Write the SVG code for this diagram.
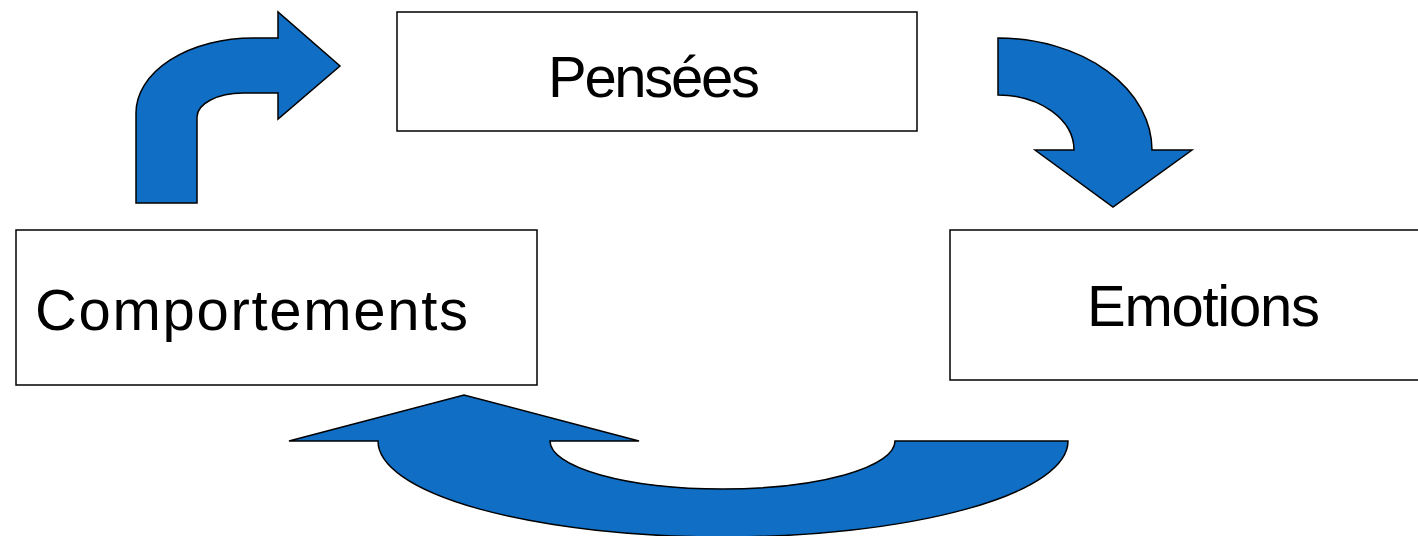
<svg xmlns="http://www.w3.org/2000/svg" width="1418" height="536" viewBox="0 0 1418 536">
  <style>
    .box { fill: #ffffff; stroke: #000000; stroke-width: 1.5; }
    .label { font-family: "Liberation Sans", Arial, sans-serif; font-size: 58px; fill: #000000; text-anchor: middle; }
    .arrow { fill: #106EC4; stroke: #000000; stroke-width: 1.5; stroke-linejoin: miter; }
  </style>
  <rect width="1418" height="536" fill="#ffffff"/>

  <g id="connectors">
    <!-- bent arrow: Comportements up to Pensées -->
    <path class="arrow" d="M136,203 L136,113 A117,75 0 0 1 253,38 L278,38 L278,12 L340,66 L278,119 L278,93 L243,93 A46,24 0 0 0 197,117 L197,203 Z"/>
    <!-- curved arrow: Pensées down to Emotions -->
    <path class="arrow" d="M998,38 A154,112 0 0 1 1152,150 L1192,150 L1113,207 L1035,150 L1074,150 A76,55 0 0 0 998,95 Z"/>
    <!-- U-turn arrow: Emotions back to Comportements -->
    <path class="arrow" d="M1068,441 A345,96 0 0 1 378,441 L289,441 L464,395 L639,441 L550,441 A172.5,48 0 0 0 895,441 Z"/>
  </g>

  <g id="node-pensees">
    <rect class="box" x="397" y="12" width="520" height="119"/>
    <text class="label" x="654" y="97" textLength="212">Pensées</text>
  </g>

  <g id="node-emotions">
    <rect class="box" x="950" y="230" width="480" height="150"/>
    <text class="label" x="1203.5" y="326" textLength="233">Emotions</text>
  </g>

  <g id="node-comportements">
    <rect class="box" x="16" y="230" width="521" height="155"/>
    <text class="label" x="251.5" y="330" textLength="433">Comportements</text>
  </g>
</svg>
